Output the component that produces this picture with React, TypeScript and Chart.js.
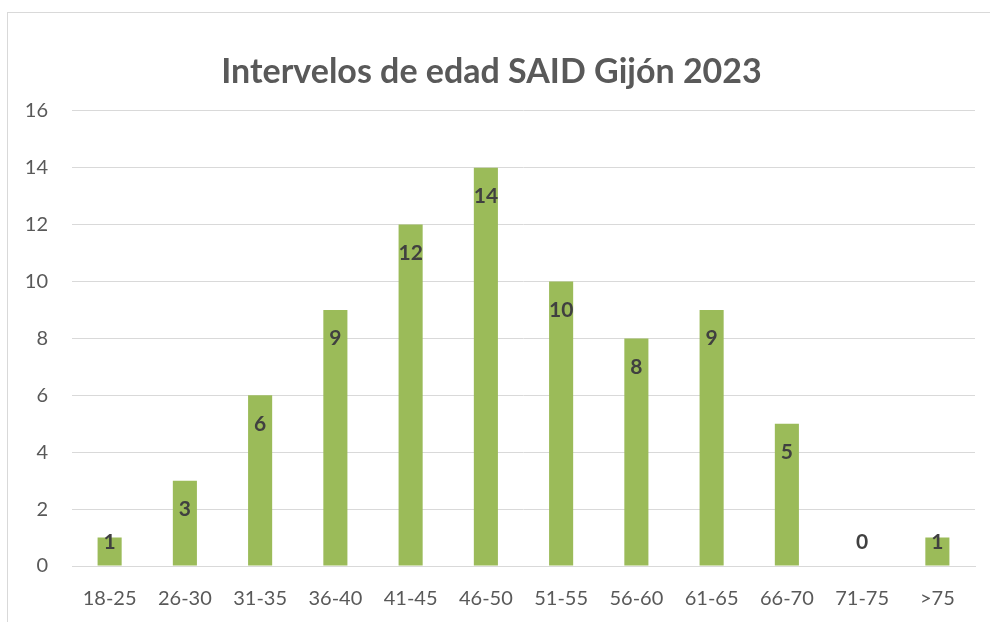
import React, { useEffect, useRef } from "react";
import { Chart, registerables } from "chart.js";

Chart.register(...registerables);

const categories = ["18-25", "26-30", "31-35", "36-40", "41-45", "46-50", "51-55", "56-60", "61-65", "66-70", "71-75", ">75"];
const values = [1, 3, 6, 9, 12, 14, 10, 8, 9, 5, 0, 1];
const yTicks = [0, 2, 4, 6, 8, 10, 12, 14, 16];
const titleText = "Intervelos de edad SAID Gijón 2023";

const FONT = "Lato, 'Open Sans', sans-serif";

const labelPlugin = {
  id: "barLabels",
  afterDatasetsDraw(chart: any) {
    const ctx = chart.ctx;
    const meta = chart.getDatasetMeta(0);
    const base = chart.scales.y.getPixelForValue(0);
    ctx.save();
    ctx.font = `bold 21px ${FONT}`;
    ctx.fillStyle = "#404040";
    ctx.textAlign = "center";
    ctx.textBaseline = "alphabetic";
    meta.data.forEach((bar: any, i: number) => {
      const center = Math.min(bar.y + 28, base - 25);
      ctx.fillText(String(values[i]), bar.x, center + 7.5);
    });
    ctx.restore();
  },
};

export default function App() {
  const ref = useRef<HTMLCanvasElement>(null);
  useEffect(() => {
    const chart = new Chart(ref.current!, {
      type: "bar",
      data: {
        labels: categories,
        datasets: [
          {
            data: values,
            backgroundColor: "#9BBB59",
            borderWidth: 0,
            categoryPercentage: 1,
            barPercentage: 0.32,
          },
        ],
      },
      options: {
        animation: false,
        responsive: false,
        maintainAspectRatio: false,
        layout: { padding: { left: 8, right: 15, top: 0, bottom: 13 } },
        plugins: {
          legend: { display: false },
          tooltip: { enabled: false },
          title: {
            display: true,
            text: titleText,
            color: "#595959",
            font: { family: FONT, size: 34, weight: "bold", lineHeight: 1.2 },
            padding: { top: 52, bottom: 18 },
          },
        },
        scales: {
          x: {
            afterFit: (scale: any) => {
              scale.height = 43;
            },
            grid: { display: false, drawTicks: false },
            border: { display: true, color: "#d9d9d9", width: 1 },
            ticks: {
              color: "#595959",
              font: { family: FONT, size: 20, lineHeight: 1.2 },
              padding: 21,
              maxRotation: 0,
              autoSkip: false,
            },
          },
          y: {
            min: 0,
            max: 16,
            afterBuildTicks: (scale: any) => {
              scale.ticks = yTicks.map((v) => ({ value: v }));
            },
            afterFit: (scale: any) => {
              scale.width = 64;
            },
            grid: { color: "#d9d9d9", lineWidth: 1, drawTicks: false },
            border: { display: false },
            ticks: {
              color: "#595959",
              font: { family: FONT, size: 20, lineHeight: 1.2 },
              padding: 24,
            },
          },
        },
      },
      plugins: [labelPlugin],
    });
    return () => chart.destroy();
  }, []);

  return (
    <div style={{ position: "fixed", left: 0, top: 0, width: 990, height: 622, overflow: "hidden", background: "#fff" }}>
      <div
        style={{
          position: "absolute",
          left: 7,
          top: 12,
          width: 1200,
          height: 800,
          borderLeft: "1px solid #d9d9d9",
          borderTop: "1px solid #d9d9d9",
        }}
      />
      <canvas ref={ref} width={990} height={622} style={{ position: "absolute", left: 0, top: 0 }} />
    </div>
  );
}
